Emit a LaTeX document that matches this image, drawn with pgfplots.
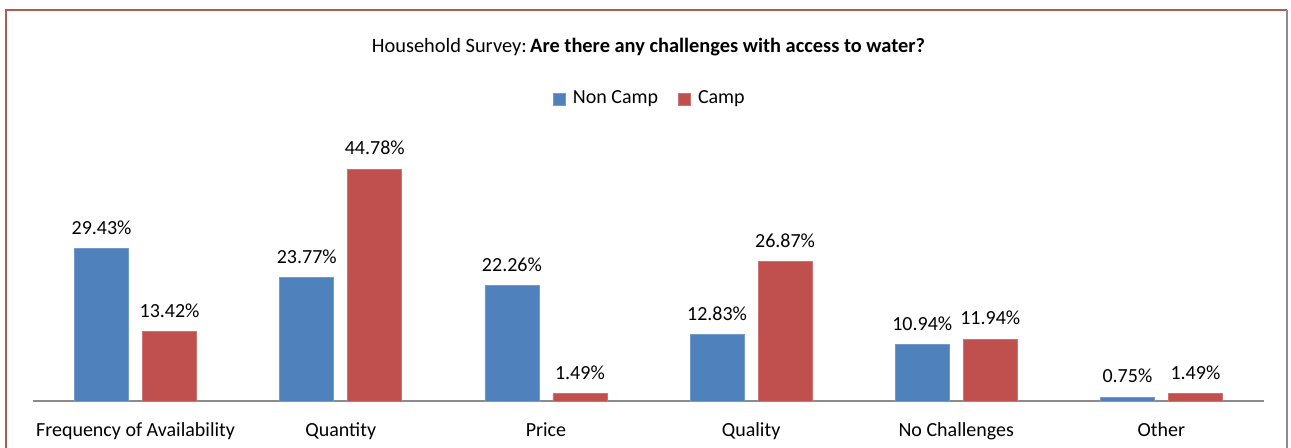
\documentclass[border=0pt]{standalone}
\usepackage{fontspec}
\setmainfont{Carlito}
\usepackage{pgfplots}
\pgfplotsset{compat=1.18}
\definecolor{noncamp}{HTML}{4F81BD}
\definecolor{camp}{HTML}{C0504D}
\definecolor{framered}{HTML}{B05A58}

\begin{document}
\begin{tikzpicture}
\useasboundingbox (0,0) rectangle (645.5pt,224pt);
% chart frame
\draw[framered, line width=1.4pt] (3pt,0) -- (3pt,219pt) -- (643.5pt,219pt);
\draw[black!45, line width=0.6pt] (643.5pt,219pt) -- (643.5pt,0);
\begin{axis}[
  at={(16.5pt,23.5pt)}, anchor=south west,
  scale only axis,
  width=615.5pt, height=129.5pt,
  ybar=7pt, bar width=27pt,
  xmin=-0.5, xmax=5.5,
  ymin=0, ymax=50,
  xtick=data,
  xticklabels={Frequency of Availability,Quantity,Price,Quality,No Challenges,Other},
  major tick length=0pt,
  xticklabel style={font=\fontsize{10}{12}\selectfont, yshift=-7.5pt},
  axis y line=none,
  axis x line*=bottom,
  x axis line style={draw=black!45, line width=0.6pt, -},
  clip=false,
  nodes near coords={\pgfmathprintnumber[fixed,fixed zerofill,precision=2]{\pgfplotspointmeta}\%},
  nodes near coords style={font=\fontsize{10}{12}\selectfont, yshift=3.5pt},
  /pgf/number format/assume math mode=true,
  title={Household Survey:\,\textbf{Are there any challenges with access to water?}},
  title style={at={(0.5,1.322)}, anchor=center, font=\fontsize{10.2}{12}\selectfont},
  legend columns=2,
  legend style={at={(0.502,1.166)}, anchor=center, draw=none, fill=none,
    font=\fontsize{10}{12}\selectfont,
    /tikz/every odd column/.append style={column sep=1.5pt},
    /tikz/every even column/.append style={column sep=8pt}},
  legend image code/.code={\fill[#1] (0pt,-3pt) rectangle (6pt,3pt);},
]
\addplot[fill=noncamp, draw=noncamp!80!white] coordinates {(0,29.43) (1,23.77) (2,22.26) (3,12.83) (4,10.94) (5,0.75)};
\addplot[fill=camp, draw=camp!80!white] coordinates {(0,13.42) (1,44.78) (2,1.49) (3,26.87) (4,11.94) (5,1.49)};
\legend{Non Camp,Camp}
\end{axis}
\end{tikzpicture}
\end{document}
